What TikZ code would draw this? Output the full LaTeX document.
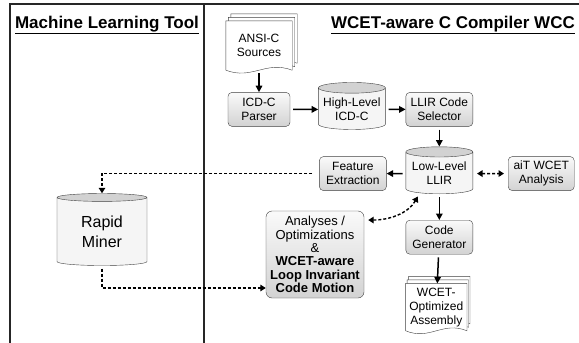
\documentclass[tikz,border=0pt]{standalone}
\usepackage{fontspec}
\setmainfont{Liberation Sans}
\usepackage{tikz}
\usetikzlibrary{shapes.geometric,arrows.meta,positioning,calc}
\newcommand\lblfont{\fontsize{12}{14}\selectfont}
\newcommand\ttlfont{\fontsize{17}{20}\selectfont\bfseries}
\tikzset{
  frame/.style={line width=1.2pt, draw=black!85},
  title/.style={anchor=base, font=\ttlfont, inner sep=0pt},
  box/.style={rectangle, draw=black!75, rounded corners=4pt, top color=gray!4, bottom color=gray!35, minimum height=34pt, minimum width=67pt, align=center, font=\lblfont, inner sep=2pt},
  db/.style={cylinder, shape border rotate=90, draw=black!75, cylinder uses custom fill, cylinder body fill=gray!8, cylinder end fill=gray!35, aspect=0.18, align=center, font=\lblfont, inner sep=1pt},
  doc/.style={rectangle, align=center, font=\lblfont, inner sep=1pt},
  page/.style={draw=black!75, fill=white},
  arr/.style={-{Triangle[length=6.5pt,width=6.5pt]}, line width=1.5pt, shorten <=3pt},
  dasharr/.style={-{Triangle[length=5.5pt,width=6.5pt]}, line width=1.4pt, dash pattern=on 3pt off 2pt},
  dbldash/.style={dasharr, {Triangle[length=5.5pt,width=6.5pt]}-{Triangle[length=5.5pt,width=6.5pt]}, shorten <=4pt, shorten >=4pt}
}
% stack of pages behind a doc node
\newcommand\pagestack[4]{% name, width, dx, dy
  \foreach \k in {2,1,0}{
    \path[page] ([shift={(\k*#3,\k*#4)}]#1.north west) -- ([shift={(\k*#3,\k*#4)}]#1.north east)
      -- ([shift={(\k*#3,\k*#4)}]#1.south east)
      .. controls +(-0.4*#2,10) and +(0.4*#2,-10) .. ([shift={(\k*#3,\k*#4)}]#1.south west) -- cycle;
  }
}

\begin{document}
\begin{tikzpicture}[x=1pt, y=1pt, node distance=20pt]
\useasboundingbox (0,0) rectangle (579,-343);
\draw[frame] (10,-343) -- (10,-4) -- (579,-4);
\draw[frame] (204,-4) -- (204,-343);

\node[title] (mlt) at (107,-28) {\underline{Machine Learning Tool}};
\node[title] (wcc) at (453,-28) {\underline{WCET-aware C Compiler WCC}};

% compiler flow
\node[doc, minimum width=66pt, minimum height=49pt] (src) at (259,-45.5) {};
\node[box, minimum width=62pt, below=22pt of src] (parser) {ICD-C\\Parser};
\node[db, minimum width=67pt, minimum height=47pt, right=28pt of parser] (hl) {High-Level\\ICD-C};
\node[box, right=of hl] (sel) {LLIR Code\\Selector};
\node[db, minimum width=67pt, minimum height=47pt, below=of sel] (ll) {Low-Level\\LLIR};
\node[box, left=19pt of ll] (fe) {Feature\\Extraction};
\node[box, minimum width=66pt, right=35pt of ll] (ait) {aiT WCET\\Analysis};
\node[box, below=26pt of ll] (cg) {Code\\Generator};
\node[doc, minimum width=61pt, minimum height=47pt, below=29pt of cg, xshift=-3pt] (asm) {};

% machine learning side
\node[db, minimum width=90pt, minimum height=72pt, font=\fontsize{16}{20}\selectfont] (rm) at (102,-232) {Rapid\\Miner};
\node[box, minimum width=98pt, minimum height=87pt, rounded corners=6pt, font=\fontsize{13}{13.4}\selectfont] (opt) at (315,-254.5)
  {Analyses /\\Optimizations\\\&\\\textbf{WCET-aware}\\\textbf{Loop Invariant}\\\textbf{Code Motion}};

\pagestack{src}{66}{2.5}{3.5}
\node[doc] at (src) {ANSI-C\\Sources};
\pagestack{asm}{61}{1.5}{3.5}
\node[doc] at (asm) {WCET-\\Optimized\\Assembly};

\draw[arr] (src) -- (parser);
\draw[arr] (parser) -- (hl);
\draw[arr] (hl) -- (sel);
\draw[arr] (sel) -- (ll);
\draw[arr] (ll) -- (fe);
\draw[arr] (ll) -- (cg);
\draw[arr] (cg) -- (asm);
\draw[dbldash] (ll) -- (ait);
\draw[dbldash] (opt.35) to[out=0, in=240] (ll.225);
\draw[dasharr, shorten <=7pt] (fe.west) -| (rm.north);
\draw[dasharr, shorten <=3pt] (rm.south) |- ([yshift=-33.5pt]opt.west);
\end{tikzpicture}
\end{document}
